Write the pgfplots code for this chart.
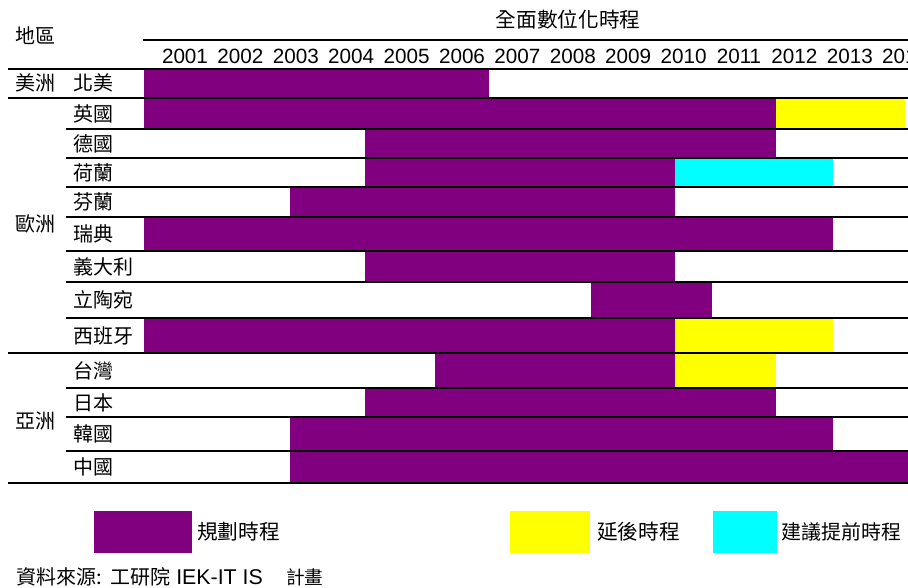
\documentclass[border=0pt]{standalone}
\usepackage{pgfplots}
\pgfplotsset{compat=1.18}
\usepackage{fontspec}
\setmainfont{Liberation Sans}
\newfontfamily\cjk{Noto Sans CJK TC}
\definecolor{plan}{HTML}{800080}
\definecolor{delay}{HTML}{FFFF00}
\definecolor{early}{HTML}{00FFFF}
\newcommand{\cj}{\cjk\fontsize{15}{17}\selectfont}
\begin{document}
\begin{tikzpicture}
\begin{axis}[
  at={(108pt,-51.75pt)}, anchor=north west,
  scale only axis, width=573pt, height=310.5pt,
  xmin=2000.26, xmax=2014.05, ymin=69, ymax=483, y dir=reverse,
  axis line style={draw=none},
  /pgf/number format/1000 sep={},
  /pgf/number format/assume math mode=true,
  xtick={2001,2002,2003,2004,2005,2006,2007,2008,2009,2010,2011,2012,2013,2014},
  xticklabel pos=upper, major tick length=0pt,
  xticklabel style={font=\fontsize{15.5}{17}\selectfont, yshift=0.5pt},
  ytick={83,113.5,143.5,172.5,202,234,266.5,300,335.5,370.5,402.5,434,467},
  yticklabels={北美,英國,德國,荷蘭,芬蘭,瑞典,義大利,立陶宛,西班牙,台灣,日本,韓國,中國},
  yticklabel style={font=\cj, anchor=west, inner sep=0pt, xshift=-53.25pt},
  clip=false,
]
% 規劃時程 (planned)
\addplot[fill=plan, draw=none] coordinates {(2000.26,69) (2006.49,69) (2006.49,98) (2000.26,98)};
\addplot[fill=plan, draw=none] coordinates {(2000.26,98) (2011.67,98) (2011.67,129) (2000.26,129)};
\addplot[fill=plan, draw=none] coordinates {(2004.25,129) (2011.67,129) (2011.67,158) (2004.25,158)};
\addplot[fill=plan, draw=none] coordinates {(2004.25,158) (2009.84,158) (2009.84,187) (2004.25,187)};
\addplot[fill=plan, draw=none] coordinates {(2002.90,187) (2009.84,187) (2009.84,217) (2002.90,217)};
\addplot[fill=plan, draw=none] coordinates {(2000.26,217) (2012.70,217) (2012.70,251) (2000.26,251)};
\addplot[fill=plan, draw=none] coordinates {(2004.25,251) (2009.84,251) (2009.84,282) (2004.25,282)};
\addplot[fill=plan, draw=none] coordinates {(2008.33,282) (2010.51,282) (2010.51,318) (2008.33,318)};
\addplot[fill=plan, draw=none] coordinates {(2000.26,318) (2009.84,318) (2009.84,353) (2000.26,353)};
\addplot[fill=plan, draw=none] coordinates {(2005.51,353) (2009.84,353) (2009.84,388) (2005.51,388)};
\addplot[fill=plan, draw=none] coordinates {(2004.25,388) (2011.67,388) (2011.67,417) (2004.25,417)};
\addplot[fill=plan, draw=none] coordinates {(2002.90,417) (2012.70,417) (2012.70,451) (2002.90,451)};
\addplot[fill=plan, draw=none] coordinates {(2002.90,451) (2014.05,451) (2014.05,483) (2002.90,483)};
% 延後時程 (delayed)
\addplot[fill=delay, draw=none] coordinates {(2011.67,98) (2014.00,98) (2014.00,129) (2011.67,129)};
\addplot[fill=delay, draw=none] coordinates {(2009.84,318) (2012.70,318) (2012.70,353) (2009.84,353)};
\addplot[fill=delay, draw=none] coordinates {(2009.84,353) (2011.67,353) (2011.67,388) (2009.84,388)};
% 建議提前時程 (suggested earlier)
\addplot[fill=early, draw=none] coordinates {(2009.84,158) (2012.70,158) (2012.70,187) (2009.84,187)};
\end{axis}
\begin{scope}[x=0.75pt, y=-0.75pt]
  \draw[line width=1.5pt] (143,40) -- (908,40);
  \foreach \yy in {69,98,353,483} \draw[line width=1.5pt] (8,\yy) -- (908,\yy);
  \foreach \yy in {129,158,187,217,251,282,318,388,417,451} \draw[line width=1.5pt] (66,\yy) -- (908,\yy);
  \node[anchor=west, inner sep=0pt] at (15,36) {\cj 地區};
  \node[inner sep=0pt] at (568,20) {\cjk\fontsize{15.5}{17}\selectfont 全面數位化時程};
  \node[anchor=west, inner sep=0pt] at (15,83) {\cj 美洲};
  \node[anchor=west, inner sep=0pt] at (15,224) {\cj 歐洲};
  \node[anchor=west, inner sep=0pt] at (15,421) {\cj 亞洲};
  \fill[plan] (94,511) rectangle (192,553);
  \node[anchor=west, inner sep=0pt] at (197,532) {\cjk\fontsize{15.5}{17}\selectfont 規劃時程};
  \fill[delay] (510,511) rectangle (590,553);
  \node[anchor=west, inner sep=0pt] at (597,532) {\cjk\fontsize{15.5}{17}\selectfont 延後時程};
  \fill[early] (713,511) rectangle (777,553);
  \node[anchor=west, inner sep=0pt] at (781,532) {\cj 建議提前時程};
  \node[anchor=west, inner sep=0pt] at (16,577) {\cj 資料來源:};
  \node[anchor=west, inner sep=0pt] at (110,577) {\cj 工研院};
  \node[anchor=west, inner sep=0pt] at (176,577) {\fontsize{16}{18}\selectfont IEK-IT IS};
  \node[anchor=west, inner sep=0pt] at (286,577) {\cjk\fontsize{14}{16}\selectfont 計畫};
  \pgfresetboundingbox
  \path[use as bounding box] (0,0) rectangle (908,587);
\end{scope}
\end{tikzpicture}
\end{document}
